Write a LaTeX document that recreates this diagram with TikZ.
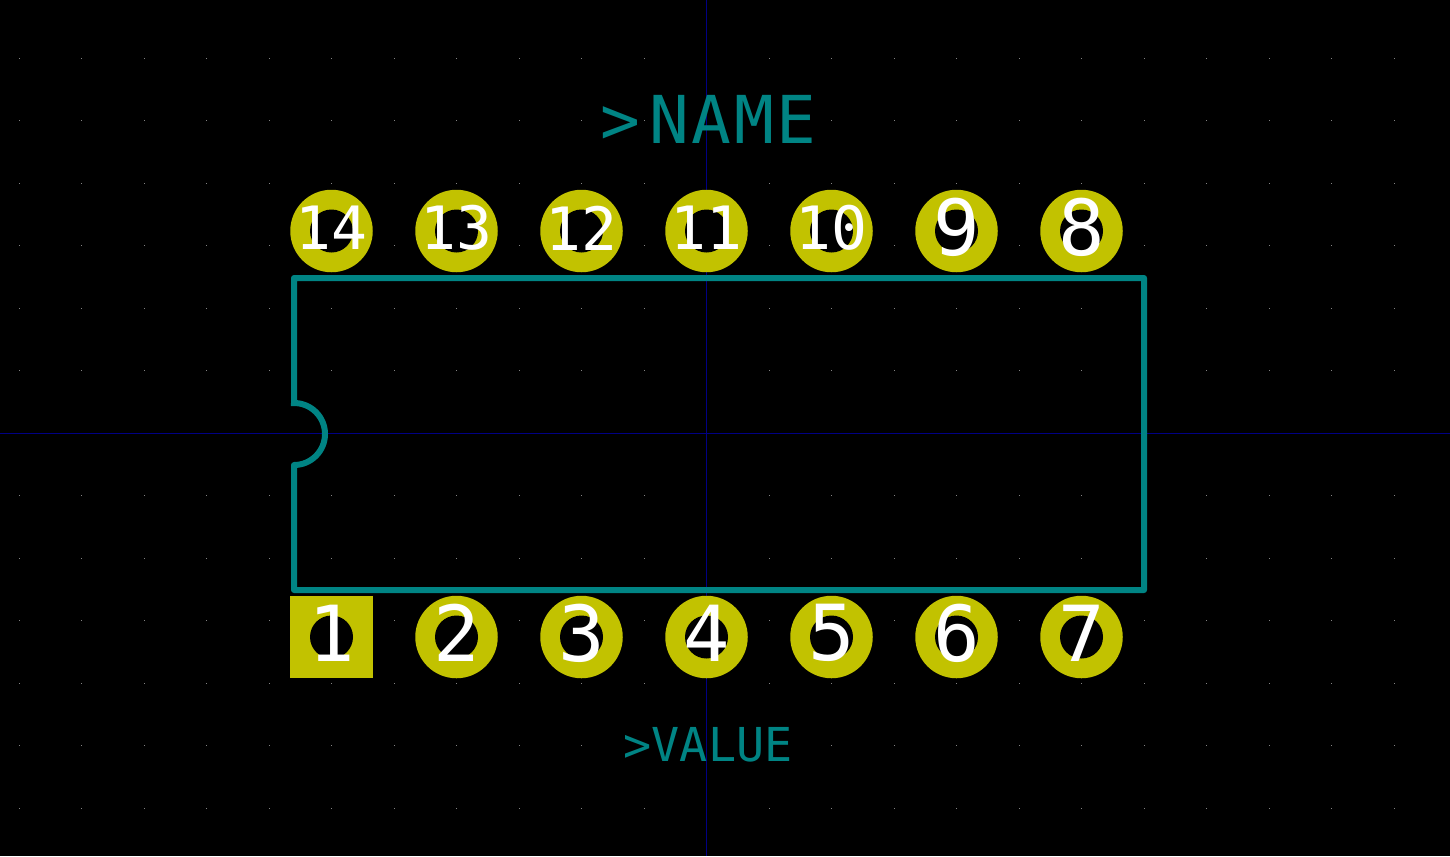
\documentclass[tikz,border=0pt]{standalone}
\usepackage{fontspec}
\setmonofont{DejaVu Sans Mono}
\newfontfamily\namefont[LetterSpace=3.5]{DejaVu Sans Mono}
\usetikzlibrary{positioning}
\definecolor{silkteal}{RGB}{0,132,132}
\definecolor{padyellow}{RGB}{194,194,0}
\definecolor{axisblue}{RGB}{0,0,132}
\definecolor{griddot}{RGB}{132,132,132}

\begin{document}
\begin{tikzpicture}[
  silk/.style={draw=silkteal, line width=0.06cm, line join=round, line cap=rect},
  pad/.style={circle, fill=padyellow, minimum size=0.825cm, inner sep=0pt},
  padsq/.style={rectangle, fill=padyellow, minimum size=0.825cm, inner sep=0pt},
  hole/.style={circle, fill=black, minimum size=0.43cm, inner sep=0pt},
  bignum/.style={font=\ttfamily\fontsize{22}{24}\selectfont, text=white, inner sep=0pt, yshift=0.04cm},
  smallnum/.style={font=\ttfamily\fontsize{17}{18}\selectfont, text=white, inner sep=0pt, yshift=0.03cm},
  axisline/.style={draw=axisblue, line width=0.01cm},
  reflbl/.style={text=silkteal, inner sep=0pt},
]
\useasboundingbox[fill=black] (0,0) rectangle (14.5,8.56);

%% ── GRID ──────────────────────────────────────────────────────────────
\foreach \gx in {0,...,22}
  \foreach \gy in {0,...,12}
    \fill[griddot] ({floor(19+62.5*\gx)/100},{(856-floor(59+62.5*\gy))/100}) rectangle ++(0.01,0.01);

%% ── AXES ──────────────────────────────────────────────────────────────
\coordinate (axtop) at (7.065,8.56);
\coordinate (axbot) at (7.065,0);
\coordinate (axlft) at (0,4.225);
\coordinate (axrgt) at (14.5,4.225);
\draw[axisline] (axtop) -- (axbot);
\draw[axisline] (axlft) -- (axrgt);

%% ── OUTLINE ───────────────────────────────────────────────────────────
\coordinate (notchtop) at (2.94,4.53);
\coordinate (notchbot) at (2.94,3.91);
\draw[silk] (notchtop) -- (2.94,5.78) -- (11.44,5.78) -- (11.44,2.66) -- (2.94,2.66) -- (notchbot)
  arc[start angle=-90, end angle=90, radius=0.31];

%% ── PADS ──────────────────────────────────────────────────────────────
\node[padsq] (pin1) at (3.315,2.19) {};
\foreach \num/\px in {2/4.565,3/5.815,4/7.065,5/8.315,6/9.565,7/10.815}
  \node[pad] (pin\num) at (\px,2.19) {};
\foreach \num/\px in {14/3.315,13/4.565,12/5.815,11/7.065,10/8.315,9/9.565,8/10.815}
  \node[pad] (pin\num) at (\px,6.25) {};
\foreach \num in {1,...,14}
  \node[hole] (hole\num) at (pin\num) {};

%% ── NUMBERS ───────────────────────────────────────────────────────────
\foreach \num in {1,...,9}
  \node[bignum] (lbl\num) at (pin\num) {\num};
\foreach \num in {10,...,14}
  \node[smallnum] (lbl\num) at (pin\num) {\num};

%% ── REFERENCE TEXT ────────────────────────────────────────────────────
\node[reflbl, font=\namefont\fontsize{18.8}{20}\selectfont] (nametxt) at (7.08,7.37) {>\kern0.1cm NAME};
\node[reflbl, font=\ttfamily\fontsize{13.3}{15}\selectfont] (valuetxt) at (7.08,1.11) {>VALUE};
\end{tikzpicture}
\end{document}
